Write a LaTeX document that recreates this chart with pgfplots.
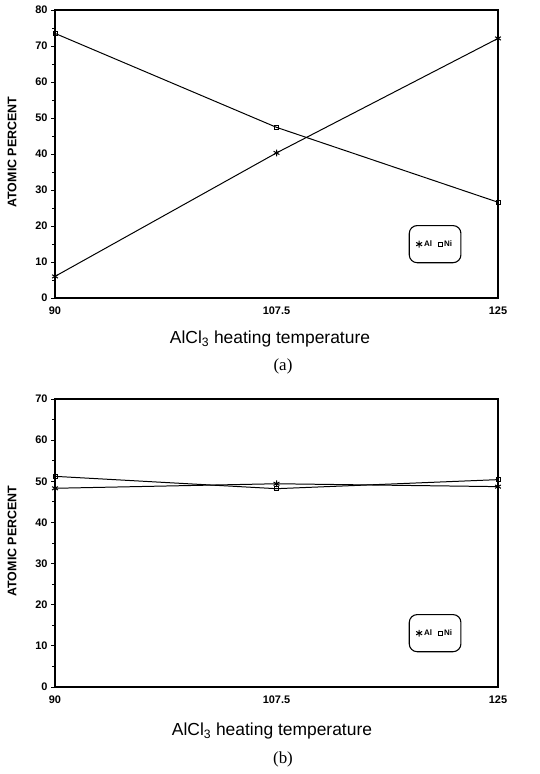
\documentclass[border=0pt]{standalone}
\usepackage{pgfplots}
\pgfplotsset{compat=1.18}
\usepackage{fontspec}
\setmainfont{Liberation Sans}
\newfontfamily\seriffont{Liberation Serif}

\pgfplotsset{
  compbox/.style={
    scale only axis,
    width=443bp, height=288bp,
    xmin=90, xmax=125,
    xtick={90,107.5,125},
    xticklabels={90,107.5,125},
    ymin=0,
    minor y tick num=1,
    ytick pos=left,
    tick align=outside,
    major tick length=4bp,
    minor tick length=3bp,
    x tick style={draw=none},
    axis line style={line width=1.2pt},
    tick style={line width=0.9pt, black},
    ticklabel style={font=\fontsize{11}{12}\selectfont\bfseries},
    /pgf/number format/assume math mode=true,
    xticklabel style={yshift=-1bp},
    legend columns=2,
    legend style={
      font=\fontsize{8}{9}\selectfont\bfseries,
      draw=black, line width=1.1pt, rounded corners=8pt,
      inner xsep=7pt, inner ysep=13pt,
      at={(0.858,0.187)}, anchor=center,
      /tikz/every even column/.append style={column sep=4pt},
    },
    legend image code/.code={\draw[#1] plot[only marks] coordinates {(0.12cm,0cm)};},
    every axis plot/.append style={line width=1pt, black},
  },
  al/.style={mark=asterisk, mark size=3.4pt, mark options={line width=1pt}},
  ni/.style={mark=square, mark size=2pt, mark options={line width=0.9pt, rounded corners=0.6pt}},
}

\begin{document}
\begin{tikzpicture}[x=1bp,y=1bp]
\useasboundingbox (0,0) rectangle (540,774);

% (a) composition against AlCl3 heating temperature
\begin{axis}[compbox, at={(55bp,476bp)}, anchor=south west, ymax=80, ytick={0,10,...,80}]
\addplot[al] coordinates {(90,6.0) (107.5,40.3) (125,72.1)};
\addlegendentry{Al}
\addplot[ni] coordinates {(90,73.5) (107.5,47.4) (125,26.6)};
\addlegendentry{Ni}
\end{axis}
\node[rotate=90, font=\fontsize{12.5}{14}\selectfont\bfseries] at (12,622) {ATOMIC PERCENT};
\node[font=\fontsize{17.5}{20}\selectfont] at (270,435) {AlCl\textsubscript{3} heating temperature};
\node[font=\fontsize{17}{20}\selectfont\seriffont] at (283,408) {(a)};

% (b)
\begin{axis}[compbox, at={(55bp,87bp)}, anchor=south west, ymax=70, ytick={0,10,...,70}]
\addplot[al] coordinates {(90,48.3) (107.5,49.4) (125,48.7)};
\addlegendentry{Al}
\addplot[ni] coordinates {(90,51.2) (107.5,48.2) (125,50.4)};
\addlegendentry{Ni}
\end{axis}
\node[rotate=90, font=\fontsize{12.5}{14}\selectfont\bfseries] at (12,233) {ATOMIC PERCENT};
\node[font=\fontsize{17.5}{20}\selectfont] at (272,43) {AlCl\textsubscript{3} heating temperature};
\node[font=\fontsize{17}{20}\selectfont\seriffont] at (283,15) {(b)};
\end{tikzpicture}
\end{document}
